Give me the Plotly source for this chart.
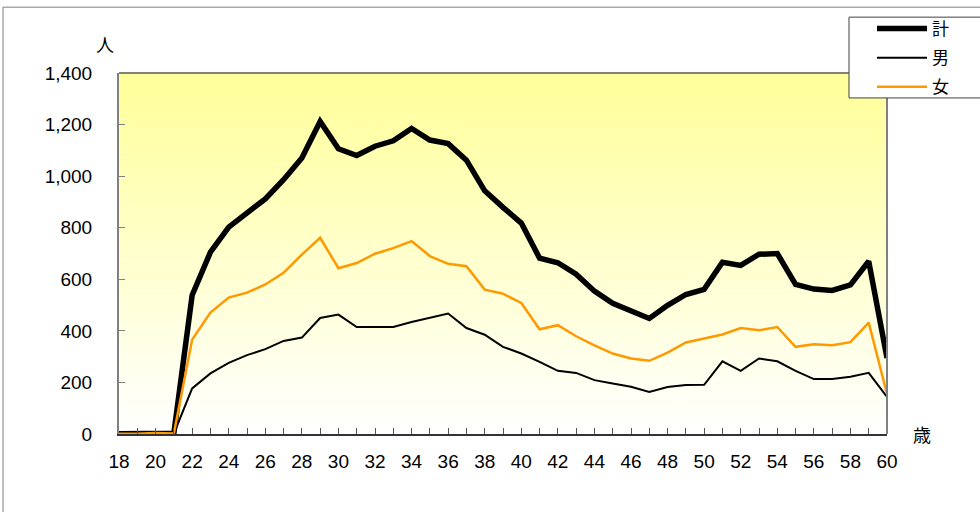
import plotly.graph_objects as go

ages = list(range(18, 61))
total = [1, 1, 5, 3, 538, 705, 802, 856, 912, 986, 1070, 1212, 1106, 1080, 1116, 1137,
         1185, 1140, 1126, 1062, 943, 879, 818, 682, 664, 620, 554, 507, 475, 448, 499,
         541, 561, 666, 654, 697, 700, 580, 562, 557, 578, 670, 295]
male = [0, 0, 1, 1, 177, 235, 276, 306, 329, 361, 374, 450, 463, 415, 415, 415,
        434, 451, 467, 411, 385, 338, 312, 280, 245, 237, 209, 196, 183, 163, 182,
        190, 191, 282, 245, 293, 282, 245, 213, 213, 222, 237, 144]
female = [1, 1, 4, 2, 366, 471, 529, 548, 580, 625, 696, 761, 643, 663, 699, 721,
          748, 690, 660, 651, 560, 544, 508, 406, 422, 379, 344, 312, 293, 284, 316,
          355, 370, 386, 411, 402, 415, 338, 348, 344, 356, 432, 155]
series_names = ["計", "男", "女"]
xtick_vals = list(range(18, 61, 2))
ytick_vals = list(range(0, 1401, 200))

FONT = "Arial, 'Liberation Sans', 'Noto Sans CJK JP', sans-serif"
JP = "'Noto Sans CJK JP', sans-serif"

fig = go.Figure()
fig.add_trace(go.Scatter(x=ages, y=total, name=series_names[0], mode="lines",
                         legendgroup="g1", line=dict(color="#000000", width=5.5)))
fig.add_trace(go.Scatter(x=ages, y=male, name=series_names[1], mode="lines",
                         legendgroup="g2", line=dict(color="#000000", width=2)))
fig.add_trace(go.Scatter(x=ages, y=female, name=series_names[2], mode="lines",
                         legendgroup="g3", line=dict(color="#FF9900", width=2.5)))

# gradient background of the plot area
shapes = []
N = 60
top = (255, 255, 153)
for i in range(N):
    t = i / (N - 1)  # 0 bottom -> 1 top
    r = int(round(255 + (top[0] - 255) * t))
    g = int(round(255 + (top[1] - 255) * t))
    b = int(round(255 + (top[2] - 255) * t))
    shapes.append(dict(type="rect", xref="paper", yref="paper",
                       x0=0, x1=1, y0=i / N, y1=(i + 1) / N,
                       fillcolor=f"rgb({r},{g},{b})", line=dict(width=0),
                       layer="below"))
# plot area frame (top and right, gray)
shapes.append(dict(type="line", xref="paper", yref="paper", x0=0, x1=1, y0=1, y1=1,
                   line=dict(color="#808080", width=2), layer="above"))
shapes.append(dict(type="line", xref="paper", yref="paper", x0=1, x1=1, y0=0, y1=1,
                   line=dict(color="#808080", width=2), layer="above"))
# outer chart border
shapes.append(dict(type="rect", xref="paper", yref="paper",
                   x0=(3 - 119) / 768, x1=(1000 - 119) / 768,
                   y0=(434 - 530) / 362, y1=(434 - 6) / 362,
                   line=dict(color="#808080", width=1), fillcolor="rgba(0,0,0,0)",
                   layer="below"))
# legend box
shapes.append(dict(type="rect", xref="paper", yref="paper",
                   x0=(849 - 119) / 768, x1=(1000 - 119) / 768,
                   y0=(434 - 97) / 362, y1=(434 - 16) / 362,
                   line=dict(color="#404040", width=1), fillcolor="white",
                   layer="above"))

fig.update_layout(
    width=980, height=512,
    margin=dict(l=119, r=93, t=72, b=78),
    paper_bgcolor="white", plot_bgcolor="rgba(0,0,0,0)",
    font=dict(family=FONT, size=16, color="#000000"),
    shapes=shapes,
    showlegend=True,
    legend=dict(x=(872 - 119) / 768, y=(434 - 11) / 362, xanchor="left", yanchor="top",
                bgcolor="rgba(0,0,0,0)", borderwidth=0,
                font=dict(family=JP, size=17), tracegroupgap=4,
                itemwidth=50),
    annotations=[
        dict(text="人", xref="paper", yref="paper", x=(105 - 119) / 768, y=(434 - 43) / 362,
             showarrow=False, font=dict(family=JP, size=18), xanchor="center", yanchor="middle"),
        dict(text="歳", xref="paper", yref="paper", x=(922 - 119) / 768, y=(434 - 434) / 362,
             showarrow=False, font=dict(family=JP, size=18), xanchor="center", yanchor="middle"),
    ],
)
fig.update_xaxes(range=[18, 60], tickvals=xtick_vals, ticktext=[str(v) for v in xtick_vals],
                 ticks="inside", ticklen=6, tickcolor="#555555",
                 minor=dict(ticks="inside", dtick=1, tick0=18, ticklen=6, tickcolor="#555555"),
                 showline=True, linecolor="#333333", linewidth=2, showgrid=False,
                 zeroline=False, ticklabelstandoff=9,
                 tickfont=dict(family=FONT, size=19))
fig.update_yaxes(range=[0, 1400], tickvals=ytick_vals, tickformat=",",
                 ticks="inside", ticklen=6, tickcolor="#808080",
                 showline=True, linecolor="#808080", linewidth=2, showgrid=False,
                 zeroline=False, ticklabelstandoff=21,
                 tickfont=dict(family=FONT, size=19))

fig.write_html("out.html", config={"displayModeBar": False},
               post_script="document.body.style.margin='0px';document.body.style.overflow='hidden';")
